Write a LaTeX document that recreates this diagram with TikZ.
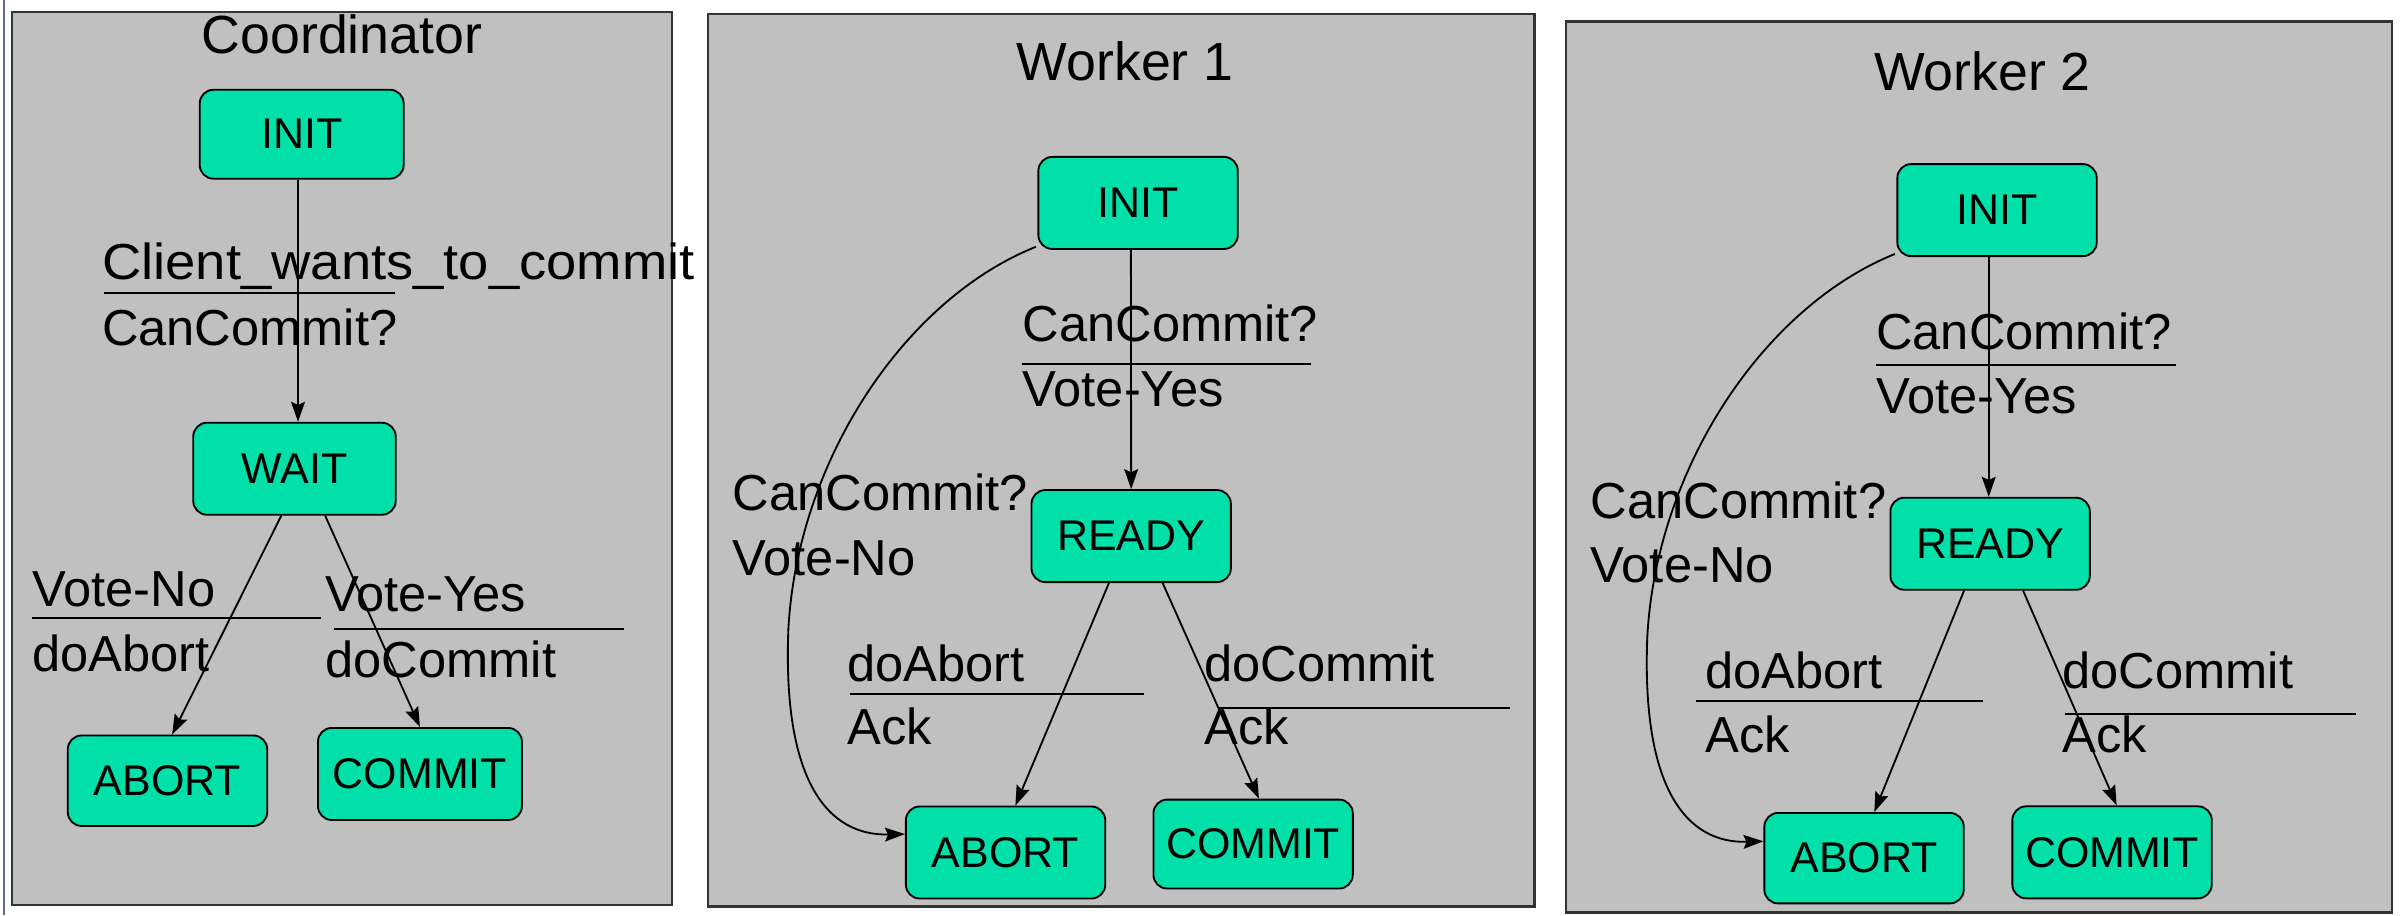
\documentclass[tikz,border=0pt]{standalone}
\usepackage{fontspec}
\setmainfont{Liberation Sans}
\usetikzlibrary{arrows.meta}
\definecolor{panelgray}{RGB}{192,192,192}
\definecolor{stgreen}{RGB}{0,224,168}
\definecolor{edgeblue}{RGB}{96,108,150}
\begin{document}
\begin{tikzpicture}[x=1pt,y=-1pt,
  panel/.style={draw=black!80,line width=1.5pt,fill=panelgray},
  st/.style={draw=black,line width=1.2pt,fill=stgreen,rounded corners=9pt,minimum width=130pt,minimum height=59pt,inner sep=0pt,font=\fontsize{28}{30}\selectfont},
  lbl/.style={anchor=base west,inner sep=0pt,font=\fontsize{33}{36}\selectfont},
  ttl/.style={anchor=base,inner sep=0pt,font=\fontsize{35}{38}\selectfont},
  bar/.style={line width=1.3pt},
  arr/.style={line width=1.2pt,-{Stealth[length=13pt,width=9pt,inset=2pt]}},
]
\useasboundingbox (0,0) rectangle (1568,596.6);
\fill[white] (0,0) rectangle (1568,596.6);
\draw[edgeblue,line width=1.5pt] (2.5,0) -- (2.5,596.6);

% panels
\draw[panel] (8,7.6) rectangle (438,590);
\draw[panel] (461.6,9.1) rectangle (1000.5,591);
\draw[panel] (1021,14.1) rectangle (1559.6,595);

% titles
\node[ttl] (tc) at (223,34.8) {Coordinator};
\node[ttl] (tw1) at (733.6,52.6) {Worker 1};
\node[ttl] (tw2) at (1292.5,59.1) {Worker 2};

% coordinator labels
\node[lbl] (c1a) at (66.4,182.5) {\scalebox{1.075}[1]{Client\textunderscore wants\textunderscore to\textunderscore commit}};
\draw[bar] (67.5,191.2) -- (257.6,191.2);
\node[lbl] (c1b) at (66.4,225) {CanCommit?};
\node[lbl] (c2a) at (21,395.5) {Vote-No};
\draw[bar] (21,403) -- (209.5,403);
\node[lbl] (c2b) at (21,437.9) {doAbort};
\node[lbl] (c3a) at (212,398.7) {Vote-Yes};
\draw[bar] (218,410) -- (407,410);
\node[lbl] (c3b) at (212,441.8) {doCommit};

% worker 1 labels
\node[lbl] (a1a) at (666.6,222.7) {CanCommit?};
\draw[bar] (666,237.3) -- (854.8,237.3);
\node[lbl] (a1b) at (666.6,264.7) {Vote-Yes};
\node[lbl] (a2a) at (477.5,333) {CanCommit?};
\node[lbl] (a2b) at (477.5,375.3) {Vote-No};
\node[lbl] (a3a) at (552.4,444.4) {doAbort};
\draw[bar] (554,452.2) -- (746,452.2);
\node[lbl] (a3b) at (552.4,485.7) {Ack};
\node[lbl] (a4a) at (785,444.4) {doCommit};
\draw[bar] (795,461.3) -- (984.5,461.3);
\node[lbl] (a4b) at (785,485.7) {Ack};

% worker 2 labels
\node[lbl] (b1a) at (1223,227.7) {CanCommit?};
\draw[bar] (1223,238) -- (1419,238);
\node[lbl] (b1b) at (1223,269.4) {Vote-Yes};
\node[lbl] (b2a) at (1037,337.9) {CanCommit?};
\node[lbl] (b2b) at (1037,379.8) {Vote-No};
\node[lbl] (b3a) at (1111.7,448.7) {doAbort};
\draw[bar] (1105.6,457) -- (1293,457);
\node[lbl] (b3b) at (1111.7,490.4) {Ack};
\node[lbl] (b4a) at (1344.5,448.7) {doCommit};
\draw[bar] (1346,465.6) -- (1535.8,465.6);
\node[lbl] (b4b) at (1344.5,490.4) {Ack};

% state nodes
\node[st,minimum width=133pt,minimum height=58pt] (cinit) at (196.7,87.5) {INIT};
\node[st,minimum width=132pt,minimum height=60pt] (cwait) at (192,305.6) {WAIT};
\node[st] (cabort) at (109.2,509) {ABORT};
\node[st,minimum width=133pt,minimum height=60pt] (ccommit) at (273.8,504.6) {COMMIT};

\node[st,minimum height=60pt] (w1init) at (742,132.3) {INIT};
\node[st,minimum height=60pt] (w1ready) at (737.5,349.5) {READY};
\node[st,minimum height=60pt] (w1abort) at (655.6,555.8) {ABORT};
\node[st,minimum height=58pt] (w1commit) at (817,550.3) {COMMIT};

\node[st,minimum height=60pt] (w2init) at (1302,137) {INIT};
\node[st,minimum height=60pt] (w2ready) at (1297.5,354.5) {READY};
\node[st] (w2abort) at (1215.3,559.5) {ABORT};
\node[st,minimum height=60pt] (w2commit) at (1377,555.7) {COMMIT};

% coordinator transitions
\draw[arr] ([xshift=-2.4pt]cinit.south) -- ([xshift=2.3pt]cwait.north);
\draw[arr] ([xshift=-8.6pt]cwait.south) -- ([xshift=3pt]cabort.north);
\draw[arr] ([xshift=20pt]cwait.south) -- (ccommit.north);

% worker 1 transitions
\draw[arr] ([xshift=-4.7pt]w1init.south) -- (w1ready.north);
\draw[arr] ([xshift=-14.5pt]w1ready.south) -- ([xshift=6.4pt]w1abort.north);
\draw[arr] ([xshift=20.5pt]w1ready.south) -- ([xshift=3.8pt]w1commit.north);
\draw[arr] ([xshift=-1pt,yshift=2pt]w1init.south west) .. controls (590,195) and (520,300) .. (514,410) .. controls (510,510) and (540,545) .. ([yshift=12pt]w1abort.west);

% worker 2 transitions
\draw[arr] ([xshift=-5.4pt]w2init.south) -- ([xshift=-0.9pt]w2ready.north);
\draw[arr] ([xshift=-17pt]w2ready.south) -- ([xshift=6.7pt]w2abort.north);
\draw[arr] ([xshift=21.5pt]w2ready.south) -- ([xshift=3pt]w2commit.north);
\draw[arr] ([xshift=-1pt,yshift=2pt]w2init.south west) .. controls (1150,200) and (1080,305) .. (1074,415) .. controls (1070,515) and (1100,550) .. ([yshift=11pt]w2abort.west);
\end{tikzpicture}
\end{document}
